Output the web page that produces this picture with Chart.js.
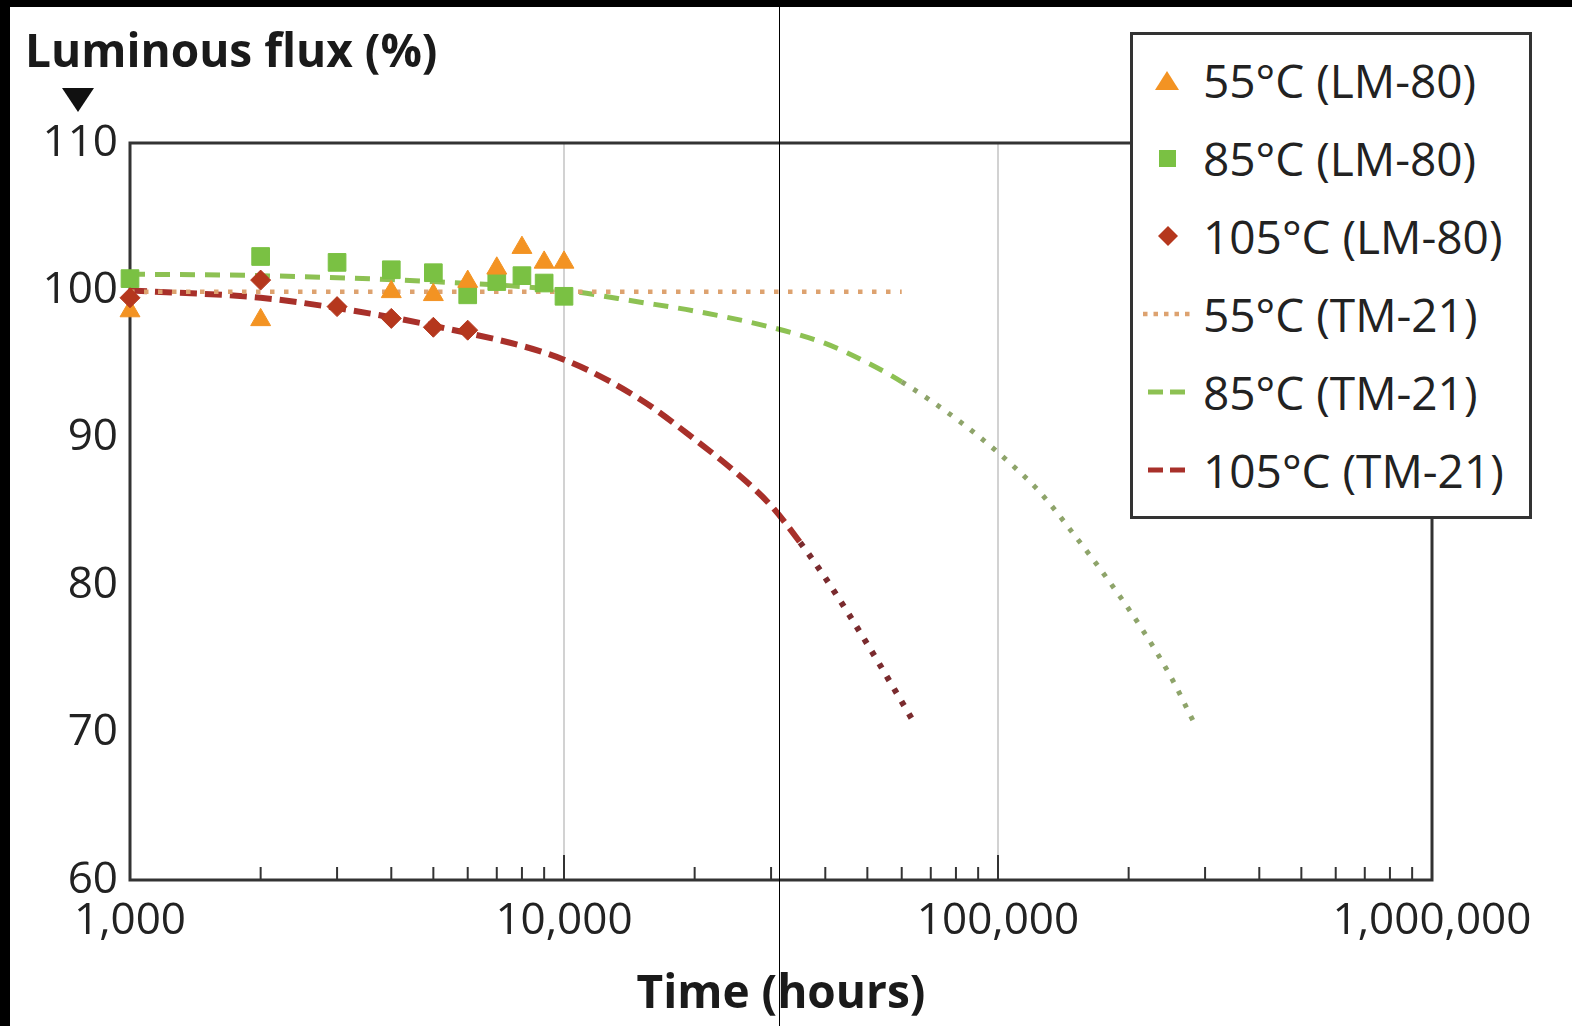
<!DOCTYPE html>
<html>
<head>
<meta charset="utf-8">
<script src="https://cdn.jsdelivr.net/npm/chart.js@4.4.1/dist/chart.umd.min.js"></script>
<style>
body { margin: 0; background: #000; width: 1572px; height: 1026px; overflow: hidden; font-family: "Open Sans", sans-serif; }
#quadro { position: absolute; left: 10px; top: 7px; width: 1562px; height: 1019px; background: #fff; }
#grafico { position: absolute; left: 0; top: -1px; }
#tituloY { position: absolute; left: 15px; top: 19px; font-size: 46px; font-weight: bold; line-height: 1; color: #1a1a1a; white-space: nowrap; }
#seta { position: absolute; left: 52px; top: 81px; width: 0; height: 0; border-left: 16px solid transparent; border-right: 16px solid transparent; border-top: 24px solid #111; }
#legenda { position: absolute; left: 1120px; top: 25px; width: 402px; height: 487px; box-sizing: border-box; border: 3px solid #333; background: #fff; padding-top: 6px; }
.linha { position: relative; height: 78px; }
.linha svg { position: absolute; left: 7px; top: 24px; }
.linha span { position: absolute; left: 70px; top: 0; font-size: 46px; line-height: 78px; color: #222; white-space: nowrap; }
#risco { position: absolute; left: 779px; top: 0; width: 1px; height: 1026px; background: #000; }
</style>
</head>
<body>
<div id="quadro">
    <canvas id="grafico" width="1562" height="1020"></canvas>
    <div id="tituloY">Luminous flux (%)</div>
    <div id="seta"></div>
    <div id="legenda"></div>
</div>
<div id="risco"></div>

<script>
/* ================= DADOS ================= */
// Medições LM-80 (horas x fluxo %)
var tempo55LM = [1000, 2000, 4000, 5000, 6000, 7000, 8000, 9000, 10000];
var fluxo55LM = [98.6, 98.0, 99.9, 99.7, 100.6, 101.5, 102.9, 101.9, 101.9];

var tempo85LM = [1000, 2000, 3000, 4000, 5000, 6000, 7000, 8000, 9000, 10000];
var fluxo85LM = [100.8, 102.3, 101.9, 101.4, 101.2, 99.7, 100.6, 101.0, 100.5, 99.6];

var tempo105LM = [1000, 2000, 3000, 4000, 5000, 6000];
var fluxo105LM = [99.5, 100.7, 98.9, 98.1, 97.5, 97.3];

// Projeções TM-21
var tempo55TM = [1000, 60000];
var fluxo55TM = [99.9, 99.9];

var tempo85TM = [1000, 2000, 5000, 10000, 15000, 20000, 30000, 40000, 50000, 60000, 80000, 100000, 125000, 150000, 180000, 215000, 250000, 287000];
var fluxo85TM = [101.1, 101.0, 100.6, 100.0, 99.2, 98.6, 97.5, 96.4, 95.1, 93.8, 91.3, 89.0, 86.3, 83.4, 80.3, 77.0, 73.8, 70.3];

var tempo105TM = [1000, 2000, 3000, 5000, 10000, 15000, 20000, 25000, 30000, 35000, 40000, 50000, 64000];
var fluxo105TM = [100.0, 99.5, 98.8, 97.6, 95.3, 92.6, 89.9, 87.6, 85.4, 82.9, 80.5, 76.0, 70.7];

// Início do trecho extrapolado (pontilhado)
var inicioPontilhado85 = 60000;
var inicioPontilhado105 = 35000;

// Marcas dos eixos
var marcasX = [1000, 10000, 100000, 1000000];
var marcasY = [60, 70, 80, 90, 100, 110];

/* ================= FUNÇÕES ================= */
function pontos(xs, ys) {
    return xs.map(function (v, i) { return { x: v, y: ys[i] }; });
}

// Moldura da área do gráfico + marcas menores do eixo X
var molduraPlugin = {
    id: 'moldura',
    beforeDatasetsDraw: function (chart) {
        var a = chart.chartArea;
        var c = chart.ctx;
        var eixoX = chart.scales.x;
        c.save();
        c.strokeStyle = '#333';
        c.lineWidth = 2;
        [1000, 10000, 100000].forEach(function (dec) {
            for (var m = 2; m <= 9; m++) {
                var px = eixoX.getPixelForValue(dec * m);
                c.beginPath();
                c.moveTo(px, a.bottom);
                c.lineTo(px, a.bottom - 13);
                c.stroke();
            }
        });
        [10000, 100000].forEach(function (v) {
            var px = eixoX.getPixelForValue(v);
            c.beginPath();
            c.moveTo(px, a.bottom);
            c.lineTo(px, a.bottom - 25);
            c.stroke();
        });
        c.lineWidth = 3;
        c.strokeRect(a.left, a.top, a.right - a.left, a.bottom - a.top);
        c.restore();
    }
};

/* ================= GRÁFICO ================= */
var series = [
    { label: '55°C (LM-80)', data: pontos(tempo55LM, fluxo55LM), pointStyle: 'triangle', pointRadius: 11.5,
      backgroundColor: '#f39323', borderColor: '#f39323', borderWidth: 1, showLine: false, order: 1, clip: false },
    { label: '85°C (LM-80)', data: pontos(tempo85LM, fluxo85LM), pointStyle: 'rect', pointRadius: 12.5,
      backgroundColor: '#7ac143', borderColor: '#7ac143', borderWidth: 1, showLine: false, order: 2, clip: false },
    { label: '105°C (LM-80)', data: pontos(tempo105LM, fluxo105LM), pointStyle: 'rectRot', pointRadius: 10,
      backgroundColor: '#b5371d', borderColor: '#b5371d', borderWidth: 1, showLine: false, order: 0, clip: false },
    { label: '55°C (TM-21)', data: pontos(tempo55TM, fluxo55TM), showLine: true, pointRadius: 0,
      borderColor: '#dda26f', borderWidth: 4.5, borderDash: [4.5, 9.5], order: 3, clip: false },
    { label: '85°C (TM-21)', data: pontos(tempo85TM, fluxo85TM), showLine: true, pointRadius: 0,
      borderColor: '#8dc153', borderWidth: 5, cubicInterpolationMode: 'monotone', order: 3, clip: false,
      segment: {
          borderDash: function (s) { return s.p0.parsed.x >= inicioPontilhado85 ? [4.5, 9.5] : [15, 10]; },
          borderColor: function (s) { return s.p0.parsed.x >= inicioPontilhado85 ? '#8ea46a' : '#8dc153'; }
      } },
    { label: '105°C (TM-21)', data: pontos(tempo105TM, fluxo105TM), showLine: true, pointRadius: 0,
      borderColor: '#a8302a', borderWidth: 6, cubicInterpolationMode: 'monotone', order: 3, clip: false,
      segment: {
          borderDash: function (s) { return s.p0.parsed.x >= inicioPontilhado105 ? [5, 9.5] : [17, 8]; },
          borderColor: function (s) { return s.p0.parsed.x >= inicioPontilhado105 ? '#7a2b2e' : '#a8302a'; }
      } }
];

var ctxGrafico = document.getElementById('grafico').getContext('2d');
var grafico = new Chart(ctxGrafico, {
    type: 'scatter',
    data: { datasets: series },
    options: {
        responsive: false,
        animation: false,
        events: [],
        layout: { padding: { top: 137, right: 140, left: 0, bottom: 0 } },
        plugins: { legend: { display: false }, tooltip: { enabled: false } },
        scales: {
            x: {
                type: 'logarithmic',
                min: 1000,
                max: 1000000,
                afterBuildTicks: function (eixo) {
                    eixo.ticks = marcasX.map(function (v) { return { value: v }; });
                },
                afterFit: function (eixo) { eixo.height = 146; },
                ticks: {
                    autoSkip: false, maxRotation: 0, padding: 15, color: '#222',
                    font: { family: 'Open Sans', size: 44 },
                    callback: function (v) { return Number(v).toLocaleString('en-US'); }
                },
                grid: {
                    drawTicks: false,
                    lineWidth: 2,
                    color: function (c) {
                        return c.tick && (c.tick.value === 10000 || c.tick.value === 100000) ? '#d2d2d2' : 'rgba(0,0,0,0)';
                    }
                },
                border: { display: false },
                title: {
                    display: true, text: 'Time (hours)', color: '#1a1a1a',
                    font: { family: 'Open Sans', size: 46, weight: 'bold' },
                    padding: { top: 0, bottom: 4 }
                }
            },
            y: {
                min: 60,
                max: 110,
                afterBuildTicks: function (eixo) {
                    eixo.ticks = marcasY.map(function (v) { return { value: v }; });
                },
                afterFit: function (eixo) { eixo.width = 120; },
                ticks: { padding: 4, color: '#222', font: { family: 'Open Sans', size: 44 } },
                grid: { display: false },
                border: { display: false }
            }
        }
    },
    plugins: [molduraPlugin]
});

/* ================= LEGENDA ================= */
function amostra(ds) {
    var cor = ds.backgroundColor;
    if (ds.pointStyle === 'triangle') return '<polygon points="27,6 39,25 15,25" fill="' + cor + '"/>';
    if (ds.pointStyle === 'rect') return '<rect x="19" y="7" width="17" height="17" fill="' + cor + '"/>';
    if (ds.pointStyle === 'rectRot') return '<polygon points="28,5 38,15 28,25 18,15" fill="' + cor + '"/>';
    // linhas TM-21
    var tracejado = ds.label.indexOf('55') === 0 ? '4.5,6' : '15,7';
    var inicio = ds.label.indexOf('55') === 0 ? 3 : 8;
    return '<line x1="' + inicio + '" y1="15" x2="52" y2="15" stroke="' + ds.borderColor + '" stroke-width="' + Math.min(ds.borderWidth, 5) + '" stroke-dasharray="' + tracejado + '"/>';
}

var legenda = document.getElementById('legenda');
series.forEach(function (ds) {
    var linha = document.createElement('div');
    linha.className = 'linha';
    linha.innerHTML = '<svg width="54" height="30">' + amostra(ds) + '</svg><span>' + ds.label + '</span>';
    legenda.appendChild(linha);
});
</script>
</body>
</html>
